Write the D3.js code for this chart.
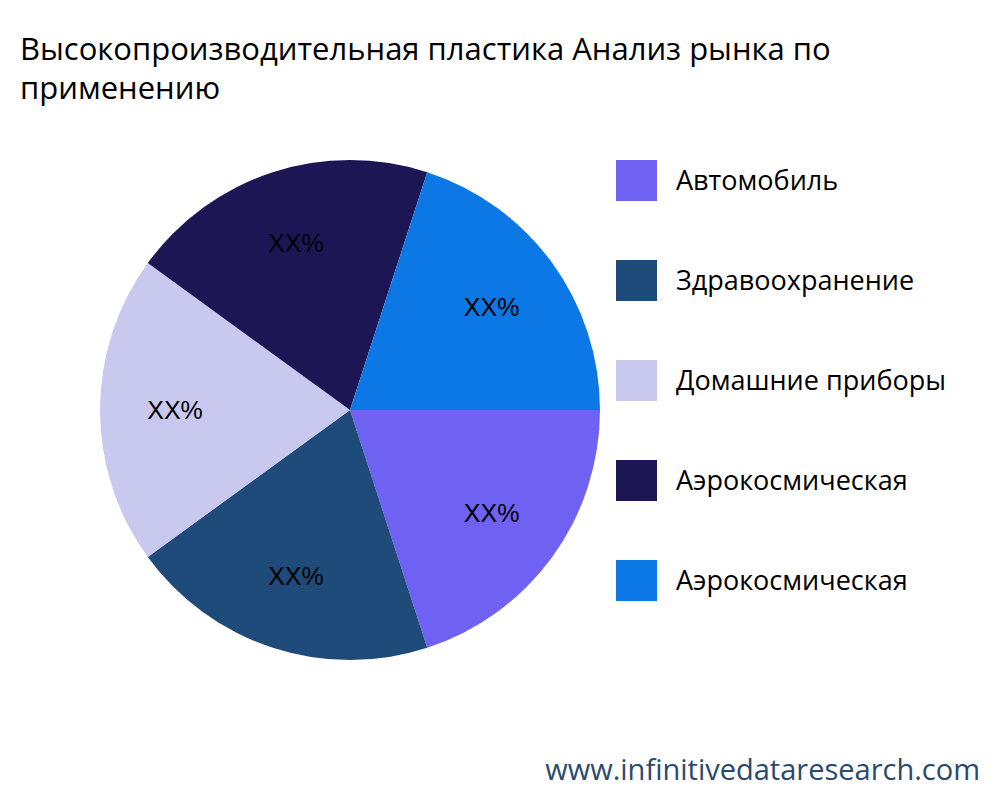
<!DOCTYPE html>
<html><head><meta charset="utf-8">
<script src="https://cdn.jsdelivr.net/npm/d3@7"></script>
<style>body{margin:0;background:#fff}</style>
</head><body>
<script>
const categories = ["Автомобиль","Здравоохранение","Домашние приборы","Аэрокосмическая","Аэрокосмическая"];
const values = [20,20,20,20,20];
const labels = ["XX%","XX%","XX%","XX%","XX%"];
const colors = ["#6f61f2","#1f4b7a","#c9c9f0","#1c1754","#0b78e6"];

const svg = d3.select("body").append("svg").attr("width",1000).attr("height",800);
svg.append("text").attr("x",20).attr("y",60).attr("font-family","Open Sans").attr("font-size",31).attr("fill","#000")
  .text("Высокопроизводительная пластика Анализ рынка по");
svg.append("text").attr("x",20).attr("y",99).attr("font-family","Open Sans").attr("font-size",31).attr("fill","#000")
  .text("применению");

const pie = d3.pie().sort(null).value(d=>d).startAngle(Math.PI/2).endAngle(Math.PI/2+2*Math.PI);
const arcs = pie(values);
const arc = d3.arc().innerRadius(0).outerRadius(250);
const larc = d3.arc().innerRadius(175).outerRadius(175);
const g = svg.append("g").attr("transform","translate(350,410)");
g.selectAll("path").data(arcs).enter().append("path").attr("d",arc).attr("fill",(d,i)=>colors[i]);
g.selectAll("text").data(arcs).enter().append("text")
  .attr("transform",d=>`translate(${larc.centroid(d)})`).attr("text-anchor","middle").attr("dy","0.35em")
  .attr("font-family","Liberation Sans").attr("font-size",25).attr("fill","#000").text((d,i)=>labels[i]);

const lg = svg.append("g");
categories.forEach((c,i)=>{
  const y = 160 + i*100;
  lg.append("rect").attr("x",616).attr("y",y).attr("width",41).attr("height",41).attr("fill",colors[i]);
  lg.append("text").attr("x",676).attr("y",y+21).attr("dy","0.35em").attr("font-family","Open Sans").attr("font-size",27).attr("fill","#000").text(c);
});
svg.append("text").attr("x",980).attr("y",780).attr("text-anchor","end").attr("font-family","Open Sans").attr("font-size",29).attr("fill","#2a4a6d").text("www.infinitivedataresearch.com");
</script>
</body></html>
